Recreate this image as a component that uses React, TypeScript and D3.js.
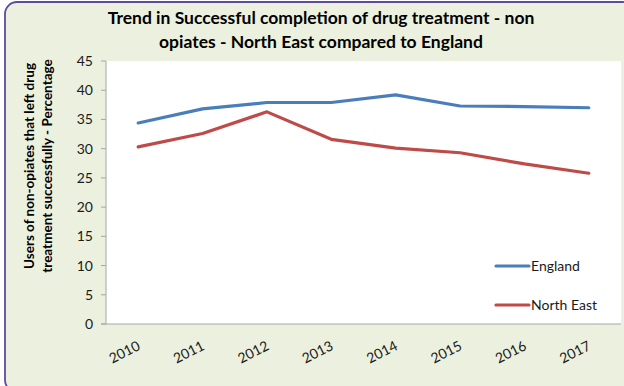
import React from "react";
import * as d3 from "d3";

const years = ["2010", "2011", "2012", "2013", "2014", "2015", "2016", "2017"];
const england = [34.4, 36.8, 37.9, 37.9, 39.2, 37.3, 37.2, 37.0];
const northEast = [30.3, 32.6, 36.3, 31.6, 30.1, 29.3, 27.4, 25.8];
const yTicks = [0, 5, 10, 15, 20, 25, 30, 35, 40, 45];
const titleLines = [
  "Trend in Successful completion of drug treatment - non",
  "opiates - North East compared to England",
];
const yTitleLines = [
  "Users of non-opiates that left drug",
  "treatment successfully - Percentage",
];

const W = 624;
const H = 386;
const FONT = "Lato, 'Open Sans', sans-serif";
const plot = { left: 106, right: 621, top: 61, bottom: 324 };

const series = [
  { name: "England", values: england, color: "#4A7EBB" },
  { name: "North East", values: northEast, color: "#BE4B48" },
];

export default function App() {
  const x = d3
    .scaleBand<string>()
    .domain(years)
    .range([plot.left, plot.right]);
  const y = d3.scaleLinear().domain([0, 45]).range([plot.bottom, plot.top]);
  const cx = (yr: string) => (x(yr) ?? 0) + x.bandwidth() / 2;

  const line = d3
    .line<number>()
    .x((_, i) => cx(years[i]))
    .y((v) => y(v));

  return (
    <div style={{ position: "fixed", left: 0, top: 0 }}>
      <svg width={W} height={H} style={{ display: "block" }}>
        <rect x={0} y={0} width={W} height={H} fill="#ffffff" />
        <rect
          x={5}
          y={2}
          width={630}
          height={390}
          rx={12}
          ry={12}
          fill="#EBF1DE"
          stroke="#604A9B"
          strokeWidth={1.8}
        />
        {titleLines.map((t, i) => (
          <text
            key={t}
            x={321}
            y={24 + i * 24}
            textAnchor="middle"
            fontFamily={FONT}
            fontWeight="bold"
            fontSize={17.5}
            fill="#000"
          >
            {t}
          </text>
        ))}
        <rect
          x={plot.left}
          y={plot.top}
          width={plot.right - plot.left}
          height={plot.bottom - plot.top}
          fill="#ffffff"
        />
        {yTitleLines.map((t, i) => (
          <text
            key={t}
            transform={`translate(${34 + i * 18},166) rotate(-90)`}
            textAnchor="middle"
            fontFamily={FONT}
            fontWeight="bold"
            fontSize={13.5}
            fill="#000"
          >
            {t}
          </text>
        ))}
        {/* y axis */}
        <line
          x1={plot.left}
          x2={plot.left}
          y1={plot.top}
          y2={plot.bottom}
          stroke="#A6A6A6"
          strokeWidth={1}
        />
        {yTicks.map((t) => (
          <g key={t}>
            <line
              x1={plot.left - 5}
              x2={plot.left}
              y1={y(t)}
              y2={y(t)}
              stroke="#A6A6A6"
            />
            <text
              x={93}
              y={y(t) + 5}
              textAnchor="end"
              fontFamily={FONT}
              fontSize={14}
              fill="#1a1a1a"
            >
              {t}
            </text>
          </g>
        ))}
        {/* x axis */}
        <line
          x1={plot.left - 5}
          x2={plot.right}
          y1={plot.bottom}
          y2={plot.bottom}
          stroke="#A6A6A6"
        />
        {years.map((yr) => (
          <text
            key={yr}
            transform={`translate(${cx(yr) + 3},349) rotate(-27)`}
            textAnchor="end"
            fontFamily={FONT}
            fontSize={14}
            fill="#1a1a1a"
          >
            {yr}
          </text>
        ))}
        {series.map((s) => (
          <path
            key={s.name}
            d={line(s.values) ?? ""}
            fill="none"
            stroke={s.color}
            strokeWidth={3.2}
            strokeLinejoin="round"
            strokeLinecap="round"
          />
        ))}
        {/* legend */}
        {series.map((s, i) => (
          <g key={s.name} transform={`translate(496,${266 + i * 39})`}>
            <line x1={0} x2={33} y1={0} y2={0} stroke={s.color} strokeWidth={3.2} strokeLinecap="round" />
            <text x={35} y={5} fontFamily={FONT} fontSize={14} fill="#1a1a1a">
              {s.name}
            </text>
          </g>
        ))}
      </svg>
    </div>
  );
}
